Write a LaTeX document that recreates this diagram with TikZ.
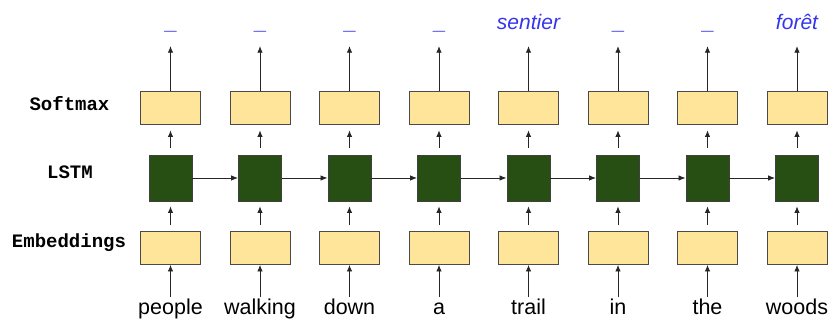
\documentclass[tikz,border=0pt]{standalone}
\usepackage{fontspec}
\setmainfont{Liberation Sans}
\newfontfamily\labelmono{Liberation Mono}
\usetikzlibrary{arrows.meta}

\definecolor{boxyellow}{HTML}{FFE599}
\definecolor{cellgreen}{HTML}{274E13}
\definecolor{edgegray}{HTML}{4A4A4A}
\definecolor{outblue}{HTML}{3535EE}

% placeholder output for steps that emit nothing
\newcommand{\blankout}{{\upshape\bfseries\fontsize{22}{22}\selectfont\_}}

\begin{document}
\begin{tikzpicture}[x=1pt,y=-1pt,
  layerbox/.style={draw=edgegray, fill=boxyellow, line width=0.9pt,
    minimum width=60pt, minimum height=33pt, inner sep=0pt},
  cellbox/.style={draw=black!75, fill=cellgreen, line width=0.9pt,
    minimum width=43pt, minimum height=46pt, inner sep=0pt},
  flow/.style={draw=black!85, line width=0.8pt,
    -{Latex[length=6.5pt,width=5.5pt]}},
  rowlabel/.style={font=\labelmono\bfseries\fontsize{19}{19}\selectfont,
    anchor=base, inner sep=0pt},
  word/.style={font=\fontsize{21.5}{22}\selectfont, anchor=base,
    inner sep=0pt, text height=17.5pt, text depth=4pt},
  outword/.style={font=\itshape\fontsize{21}{22}\selectfont, text=outblue,
    anchor=base, inner sep=0pt, text height=16pt, text depth=5pt}]

\useasboundingbox (0,0) rectangle (833,320);

% row labels
\node[rowlabel] (lblsoft) at (69.5,110.5) {Softmax};
\node[rowlabel] (lbllstm) at (70,178.3) {LSTM};
\node[rowlabel] (lblemb)  at (69,248) {Embeddings};

% one column per time step
\foreach \w/\o [count=\i, evaluate=\i as \x using 170.5+89.5*(\i-1)] in
  {people/\blankout, walking/\blankout, down/\blankout, a/\blankout,
   trail/sentier, in/\blankout, the/\blankout, woods/forêt}{
  \node[layerbox] (soft\i) at (\x,107.5) {};
  \node[cellbox]  (lstm\i) at (\x,178) {};
  \node[layerbox] (emb\i)  at (\x,248) {};
  \node[word]    (in\i)  at (\x,314.5) {\w};
  \node[outword] (out\i) at (\x,30) {\o};
  \draw[flow] (in\i.north) -- (emb\i.south);
  \draw[flow, shorten <=6pt, shorten >=5pt] (emb\i.north) -- (lstm\i.south);
  \draw[flow, shorten <=7pt, shorten >=6pt] (lstm\i.north) -- (soft\i.south);
  \draw[flow, shorten >=11pt] (soft\i.north) -- (out\i.south);
}

% recurrent connections
\foreach \i [evaluate=\i as \j using int(\i+1)] in {1,...,7}{
  \draw[flow, -{Latex[length=7pt,width=5.5pt]}] (lstm\i.east) -- (lstm\j.west);
}
\end{tikzpicture}
\end{document}
